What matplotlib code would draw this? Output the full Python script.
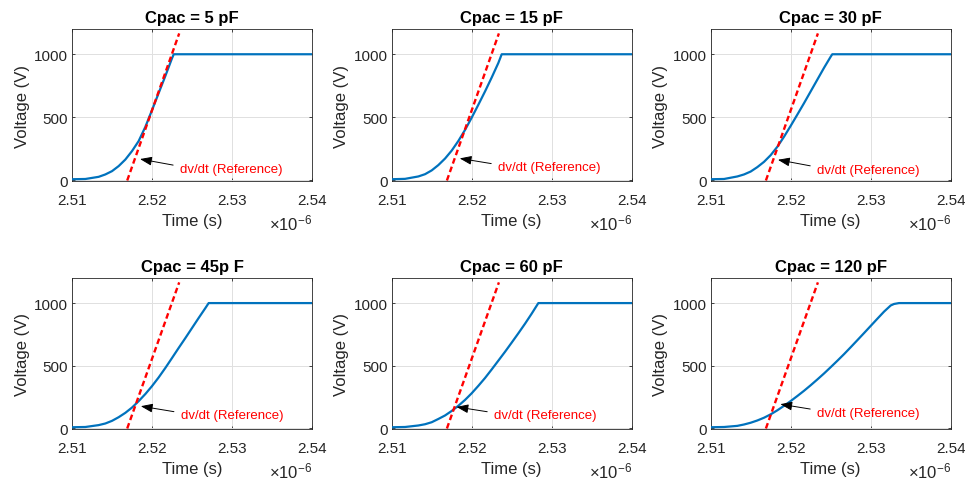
import matplotlib
matplotlib.use("Agg")
import matplotlib.pyplot as plt

plt.rcParams['font.family'] = ['Liberation Sans', 'DejaVu Sans']
plt.rcParams['mathtext.fontset'] = 'custom'
plt.rcParams['mathtext.rm'] = 'Liberation Sans'
plt.rcParams['mathtext.it'] = 'Liberation Sans:italic'

# Capacitance cases (panel titles)
titles = ["Cpac = 5 pF", "Cpac = 15 pF", "Cpac = 30 pF",
          "Cpac = 45p F", "Cpac = 60 pF", "Cpac = 120 pF"]

# Voltage rise waveforms, time in units of 1e-6 s, voltage in V
t_5 = [2.51000, 2.51167, 2.51333, 2.51417, 2.51500, 2.51583, 2.51667, 2.51750,
       2.51833, 2.51917, 2.52000, 2.52083, 2.52167, 2.52250, 2.52272, 2.54000]
v_5 = [10, 12, 29, 48, 74, 114, 166, 233, 312, 425, 557, 692, 828, 968, 1000, 1000]

t_15 = [2.51000, 2.51167, 2.51333, 2.51417, 2.51500, 2.51583, 2.51667, 2.51750,
        2.51833, 2.51917, 2.52000, 2.52083, 2.52167, 2.52250, 2.52333, 2.52375,
        2.54000]
v_15 = [10, 13, 32, 50, 80, 122, 174, 237, 313, 401, 498, 600, 706, 816, 931,
        1000, 1000]

t_30 = [2.51000, 2.51167, 2.51333, 2.51417, 2.51500, 2.51583, 2.51667, 2.51750,
        2.51833, 2.51917, 2.52000, 2.52083, 2.52167, 2.52250, 2.52333, 2.52417,
        2.52500, 2.52520, 2.54000]
v_30 = [10, 12, 32, 48, 71, 106, 148, 201, 267, 347, 433, 522, 613, 706, 799,
        893, 981, 1000, 1000]

t_45 = [2.51000, 2.51167, 2.51333, 2.51417, 2.51500, 2.51583, 2.51667, 2.51750,
        2.51833, 2.51917, 2.52000, 2.52083, 2.52167, 2.52250, 2.52333, 2.52417,
        2.52500, 2.52583, 2.52667, 2.52708, 2.54000]
v_45 = [10, 12, 27, 40, 61, 90, 125, 167, 218, 275, 338, 407, 483, 562, 642,
        721, 801, 881, 960, 1000, 1000]

t_60 = [2.51000, 2.51167, 2.51333, 2.51417, 2.51500, 2.51583, 2.51667, 2.51750,
        2.51833, 2.51917, 2.52000, 2.52083, 2.52167, 2.52250, 2.52333, 2.52417,
        2.52500, 2.52583, 2.52667, 2.52750, 2.52833, 2.54000]
v_60 = [10, 12, 24, 34, 50, 76, 104, 140, 181, 228, 281, 340, 403, 471, 541,
        612, 685, 759, 836, 916, 1000, 1000]

t_120 = [2.51000, 2.51167, 2.51333, 2.51417, 2.51500, 2.51583, 2.51667, 2.51750,
         2.51833, 2.51917, 2.52000, 2.52083, 2.52167, 2.52250, 2.52333, 2.52417,
         2.52500, 2.52583, 2.52667, 2.52750, 2.52833, 2.52917, 2.53000, 2.53083,
         2.53167, 2.53250, 2.53292, 2.53354, 2.54000]
v_120 = [10, 12, 21, 32, 46, 64, 86, 113, 145, 181, 219, 259, 301, 345, 391,
         439, 489, 540, 593, 648, 704, 761, 818, 875, 932, 981, 993, 1000, 1000]

waveforms = [(t_5, v_5), (t_15, v_15), (t_30, v_30),
             (t_45, v_45), (t_60, v_60), (t_120, v_120)]

# Reference dv/dt line (about 180 V/ns)
ref_t = [2.5169, 2.5234]
ref_v = [0, 1165]

# Annotation arrow tip and label anchor per panel: (t, V)
arrow_tip = [(2.5185, 170), (2.5185, 175), (2.5184, 164),
             (2.5186, 178), (2.5181, 172), (2.5187, 194)]
label_pos = [(2.5235, 93), (2.5233, 106), (2.5233, 87),
             (2.5236, 106), (2.5228, 106), (2.5233, 127)]

x_ticks = [2.51, 2.52, 2.53, 2.54]
y_ticks = [0, 500, 1000]

W, H = 965, 481
fig = plt.figure(figsize=(W / 100, H / 100), dpi=100)

lefts = [72, 391.7, 710.7]
rows = [(30, 182), (279, 430)]

blue = (0, 0.447, 0.741)
axis_gray = (0.15, 0.15, 0.15)

for i, (title, (t, v)) in enumerate(zip(titles, waveforms)):
    r, c = divmod(i, 3)
    top, bot = rows[r]
    ax = fig.add_axes([lefts[c] / W, (H - bot) / H, 240 / W, (bot - top) / H])
    ax.grid(True, color=(0.88, 0.88, 0.88), lw=0.7)
    ax.set_axisbelow(True)
    ax.plot(t, v, color=blue, lw=1.6, zorder=3, solid_joinstyle='round')
    ax.plot(ref_t, ref_v, color='red', lw=1.7, linestyle=(0, (2.4, 1.4)), zorder=4)
    ax.set_xlim(2.51, 2.54)
    ax.set_ylim(-4, 1200)
    ax.set_xticks(x_ticks)
    ax.set_xticklabels([f"{x:.2f}" for x in x_ticks])
    ax.set_yticks(y_ticks)
    ax.tick_params(direction='in', length=2.5, width=0.6, colors=axis_gray,
                   labelsize=11, top=True, right=True)
    ax.tick_params(axis='x', pad=8.5)
    ax.tick_params(axis='y', pad=3)
    for s in ax.spines.values():
        s.set_color(axis_gray)
        s.set_linewidth(0.6)
    ax.set_title(title, fontsize=12, fontweight='bold', pad=5, color='black')
    ax.set_xlabel("Time (s)", fontsize=12, color=axis_gray, labelpad=4.5)
    ax.set_ylabel("Voltage (V)", fontsize=12, color=axis_gray, labelpad=3)
    ax.text(1.0, -0.275, r"$\times10^{-6}$", transform=ax.transAxes,
            ha='right', va='center', fontsize=12, color=axis_gray)
    ax.annotate("dv/dt (Reference)", xy=arrow_tip[i], xytext=label_pos[i],
                fontsize=9.5, color='red', ha='left', va='center',
                arrowprops=dict(arrowstyle='-|>,head_length=0.75,head_width=0.28',
                                color='black', lw=0.7, relpos=(0, 0.7),
                                shrinkA=3, shrinkB=0),
                zorder=5)

fig.savefig("out.png", dpi=100, facecolor='white')
